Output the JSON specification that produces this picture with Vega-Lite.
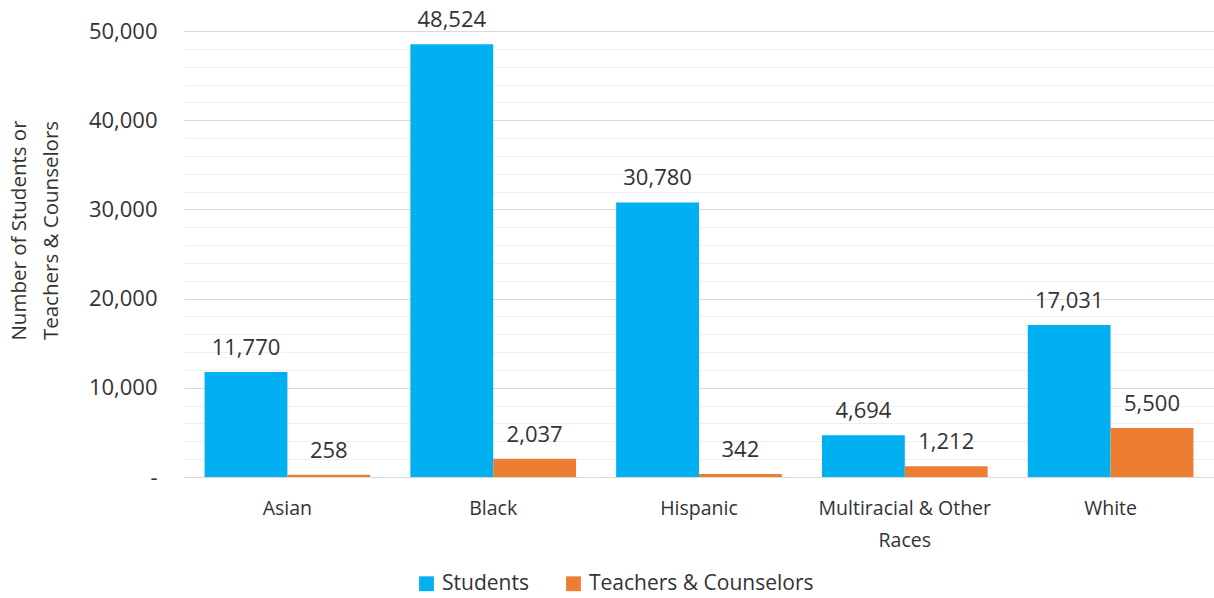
{
  "$schema": "https://vega.github.io/schema/vega-lite/v6.json",
  "width": 1030,
  "height": 446,
  "autosize": "none",
  "padding": {"left": 184, "top": 31, "right": 0, "bottom": 121},
  "background": "white",
  "config": {
    "font": "Open Sans",
    "view": {"stroke": null},
    "axis": {"labelFont": "Open Sans", "titleFont": "Open Sans"}
  },
  "data": {
    "values": [
      {"race": "Asian", "group": "Students", "count": 11770},
      {"race": "Asian", "group": "Teachers & Counselors", "count": 258},
      {"race": "Black", "group": "Students", "count": 48524},
      {"race": "Black", "group": "Teachers & Counselors", "count": 2037},
      {"race": "Hispanic", "group": "Students", "count": 30780},
      {"race": "Hispanic", "group": "Teachers & Counselors", "count": 342},
      {"race": "Multiracial & Other Races", "group": "Students", "count": 4694},
      {"race": "Multiracial & Other Races", "group": "Teachers & Counselors", "count": 1212},
      {"race": "White", "group": "Students", "count": 17031},
      {"race": "White", "group": "Teachers & Counselors", "count": 5500}
    ]
  },
  "encoding": {
    "x": {
      "field": "race", "type": "nominal", "sort": null,
      "scale": {"paddingInner": 0.195, "paddingOuter": 0.1},
      "axis": {
        "title": null, "labelAngle": 0, "tickSize": 0, "domain": true,
        "domainColor": "#d9d9d9", "labelFontSize": 19.5, "labelColor": "#333333",
        "labelPadding": 31, "labelBaseline": "middle", "labelLineHeight": 32,
        "labelExpr": "datum.label == 'Multiracial & Other Races' ? ['Multiracial & Other', 'Races'] : datum.label"
      }
    },
    "xOffset": {"field": "group", "type": "nominal", "scale": {"paddingInner": 0}},
    "y": {
      "field": "count", "type": "quantitative",
      "scale": {"domain": [0, 50000], "nice": false},
      "axis": {
        "title": ["Number of Students or", "Teachers & Counselors"],
        "titleFontSize": 20.5, "titleFontWeight": "normal", "titleColor": "#333333",
        "titleLineHeight": 32, "titlePadding": 27, "titleY": 199,
        "values": [0, 2000, 4000, 6000, 8000, 10000, 12000, 14000, 16000, 18000, 20000, 22000, 24000, 26000, 28000, 30000, 32000, 34000, 36000, 38000, 40000, 42000, 44000, 46000, 48000, 50000],
        "labelExpr": "datum.value % 10000 == 0 ? (datum.value == 0 ? '-' : format(datum.value, ',')) : ''",
        "labelFontSize": 22, "labelColor": "#333333", "labelPadding": 27,
        "tickSize": 0, "domain": false,
        "grid": true,
        "gridColor": {"condition": {"test": "datum.value % 10000 == 0", "value": "#d9d9d9"}, "value": "#efefef"},
        "gridWidth": 1.2
      }
    }
  },
  "layer": [
    {
      "mark": {"type": "bar"},
      "encoding": {
        "color": {
          "field": "group", "type": "nominal",
          "scale": {"domain": ["Students", "Teachers & Counselors"], "range": ["#00B0F0", "#ED7D31"]},
          "legend": {
            "title": null, "orient": "none", "direction": "horizontal",
            "legendX": 232, "legendY": 542,
            "symbolType": "square", "symbolSize": 220, "symbolStrokeWidth": 0,
            "labelFontSize": 21, "labelColor": "#333333", "columnPadding": 34, "labelOffset": 5,
            "labelLimit": 400
          }
        }
      }
    },
    {
      "mark": {"type": "text", "baseline": "bottom", "dy": -12, "fontSize": 22, "color": "#333333"},
      "encoding": {"text": {"field": "count", "type": "quantitative", "format": ","}}
    }
  ]
}
